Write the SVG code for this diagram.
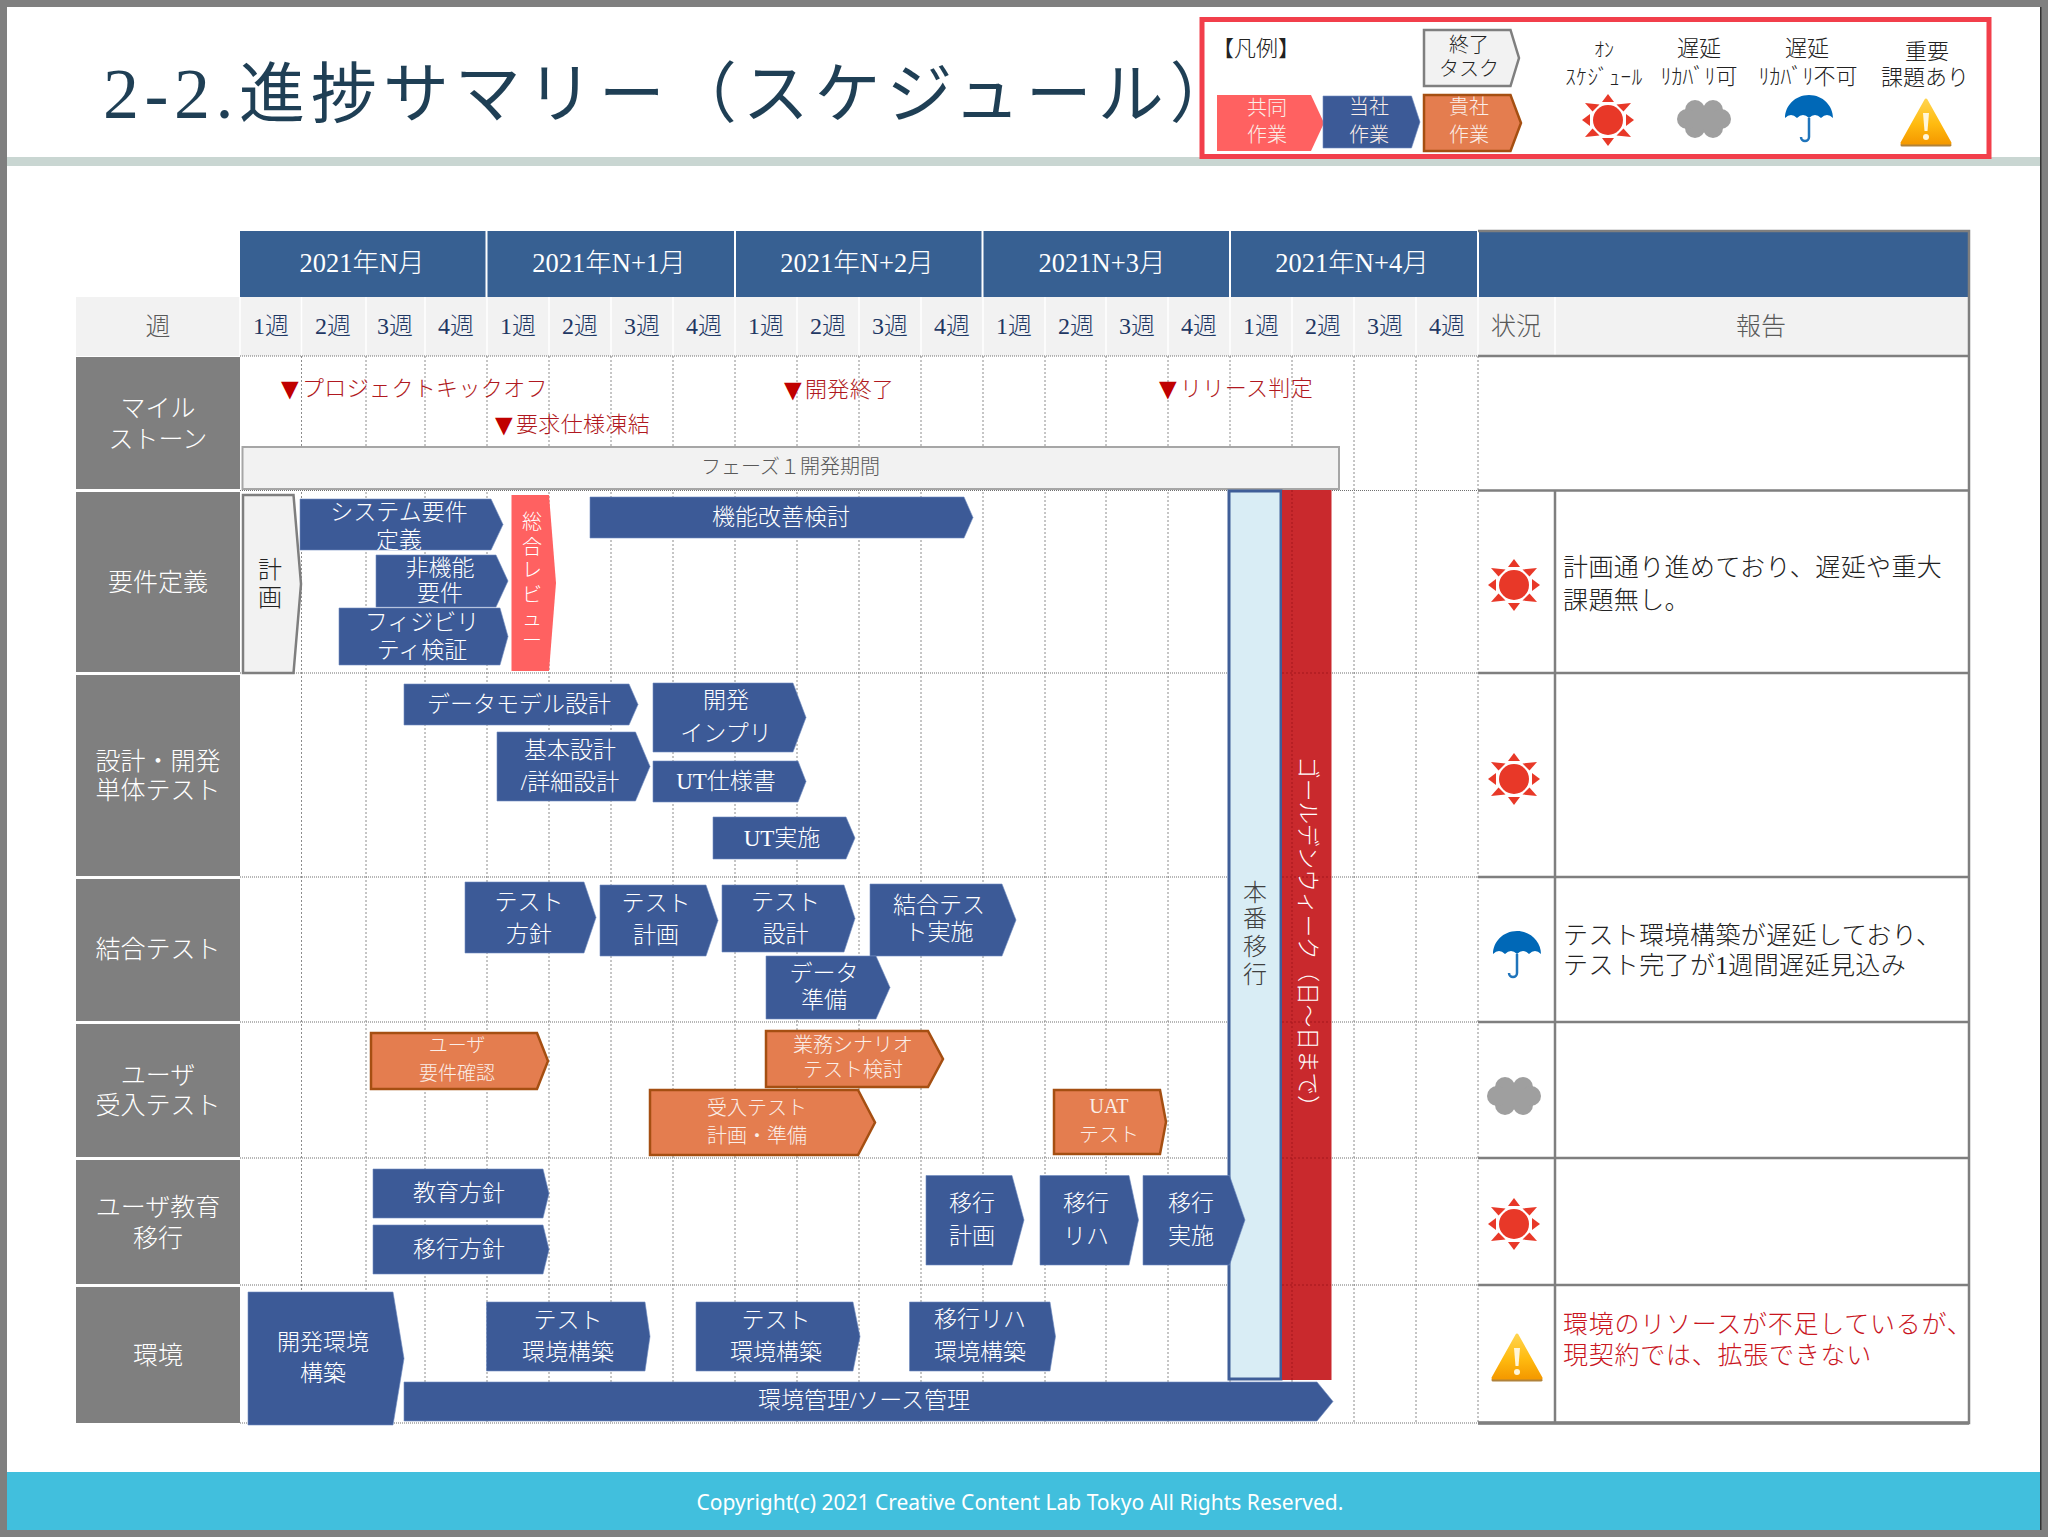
<svg xmlns="http://www.w3.org/2000/svg" width="2048" height="1537" viewBox="0 0 2048 1537">
<style>
text{font-family:"Liberation Serif","Noto Sans CJK JP",serif;font-weight:300;text-anchor:middle;dominant-baseline:central}
.s{text-anchor:start}
.blue{fill:#3c5a97;stroke:#6f8bc0;stroke-width:.6}
.org{fill:#e47d4f;stroke:#a54f12;stroke-width:2.5}
.red{fill:#ff6161}
.done{fill:#f2f2f2;stroke:#7f7f7f;stroke-width:2.5}
.t23{font-size:23px;fill:#fff}
.t20{font-size:20px;fill:#fbeee8}
.lab{font-size:25px;fill:#fff}
.wk{font-size:24px;fill:#1f3864}
.mo{font-size:26.500px;fill:#fff}
.hd{font-size:25px;fill:#595959}
.ms{font-size:22px;fill:#b01820;letter-spacing:.35px}
.tri{font-family:"DejaVu Sans",sans-serif;font-size:30px;fill:#c00000;letter-spacing:0}
.rep{font-size:25px;fill:#222;letter-spacing:.4px}
.repr{font-size:25px;fill:#c9151e;letter-spacing:.75px}
.leg{font-size:21px;fill:#222}
.dot{stroke:#8c8c8c;stroke-width:1;stroke-dasharray:2 2;fill:none}
.dot2{stroke:#707070;stroke-width:1.2;stroke-dasharray:1 1;fill:none}
.dot3{stroke:#a3161c;stroke-width:1;stroke-dasharray:2 2;fill:none}
.tb{stroke:#7f7f7f;stroke-width:2.5;fill:none}
</style>
<defs>
<linearGradient id="amber" x1="0" y1="0" x2="0" y2="1"><stop offset="0" stop-color="#ffd34d"/><stop offset=".55" stop-color="#ffbb10"/><stop offset="1" stop-color="#f59a00"/></linearGradient>
<g id="sun" fill="#e83828"><circle r="15"/>
<polygon id="ray" points="0,-26 -6,-18 6,-18"/>
<use href="#ray" transform="rotate(90)"/><use href="#ray" transform="rotate(180)"/><use href="#ray" transform="rotate(270)"/>
<polygon points="-23,-17 -8.500,-15.500 -15.500,-8.500"/><polygon points="23,-17 8.500,-15.500 15.500,-8.500"/><polygon points="-23,17 -8.500,15.500 -15.500,8.500"/><polygon points="23,17 8.500,15.500 15.500,8.500"/>
</g>
<g id="cloud" fill="#9f9f9f"><circle cx="-9" cy="-9" r="10"/><circle cx="9" cy="-9" r="10"/><circle cx="-9" cy="9" r="10"/><circle cx="9" cy="9" r="10"/><circle cx="-17" r="10"/><circle cx="17" r="10"/><rect x="-10" y="-10" width="20" height="20"/></g>
<g id="umb"><path d="M0,-24C14,-24 24,-13 24,-1Q18,-7 12,-1Q6,-7 0,-1Q-6,-7 -12,-1Q-18,-7 -24,-1C-24,-13 -14,-24 0,-24Z" fill="#0068b7"/><path d="M0,-1V18a4,4 0 0 1 -8,0" fill="none" stroke="#1f74bb" stroke-width="2.500"/></g>
<g id="warn"><path d="M0,-22L24,21H-24Z" fill="#b0823a" stroke="#b0823a" stroke-width="3" stroke-linejoin="round" transform="translate(0,2)"/><path d="M0,-22L24,21H-24Z" fill="url(#amber)" stroke="url(#amber)" stroke-width="3" stroke-linejoin="round"/><polygon points="-3,-9 3,-9 1.500,9 -1.500,9" fill="#fff6d8"/><circle cy="15" r="3" fill="#fff6d8"/></g>
</defs>

<g id="frame">
<rect width="2048" height="1537" fill="#7f7f7f"/>
<rect x="7" y="7" width="2034" height="1523" fill="#fff"/>
<rect x="7" y="157" width="2034" height="9" fill="#c9d6d2"/>
<rect x="7" y="1472" width="2034" height="58" fill="#41bfdd"/>
<rect x="2040" y="7" width="1.500" height="1523" fill="#333"/>
</g>
<text id="title" class="s" x="103" y="94" style="font-size:66px;fill:#1f3f55;letter-spacing:5.950px;font-weight:400"><tspan style="font-size:72px;letter-spacing:5.500px">2-2.</tspan>進捗サマリー（スケジュール）</text>
<text id="copyright" x="1020" y="1502" style="font-family:'Noto Sans',sans-serif;font-size:21px;fill:#fff;font-weight:400">Copyright(c) 2021 Creative Content Lab Tokyo All Rights Reserved.</text>

<g id="grid">
<rect x="240" y="231" width="1729" height="66" fill="#376092"/>
<rect x="76" y="297" width="1893" height="59" fill="#f2f2f2"/>
<path d="M486.500 231V297M735 231V297M982.500 231V297M1230 231V297M1478 231V297" stroke="#fff" stroke-width="2" fill="none"/>
<path d="M240 297V356M301.500 297V356M366 297V356M425 297V356M487 297V356M549 297V356M611 297V356M673 297V356M735 297V356M797 297V356M859 297V356M921 297V356M983 297V356M1045 297V356M1106 297V356M1168 297V356M1230 297V356M1292 297V356M1354 297V356M1416 297V356M1478 297V356M1555 297V356" stroke="#fff" stroke-width="1.500" fill="none"/>
<g fill="#7f7f7f">
<rect x="76" y="357" width="164" height="132"/><rect x="76" y="492" width="164" height="180"/><rect x="76" y="675" width="164" height="201"/><rect x="76" y="879" width="164" height="142"/><rect x="76" y="1024" width="164" height="133"/><rect x="76" y="1160" width="164" height="124"/><rect x="76" y="1287" width="164" height="136"/>
</g>
<path class="dot" d="M301.500 356V1423M366 356V1423M425 356V1423M487 356V1423M549 356V1423M611 356V1423M673 356V1423M735 356V1423M797 356V1423M859 356V1423M921 356V1423M983 356V1423M1045 356V1423M1106 356V1423M1168 356V1423M1230 356V1423M1292 356V1423M1354 356V1423M1416 356V1423M1478 356V1423"/>
<path class="dot2" d="M240 356H1478M240 490.500H1478M240 673H1478M240 877H1478M240 1022H1478M240 1158H1478M240 1285H1478M240 1423H1478"/>
<path class="tb" d="M1478 231H1969V1423H1478M1478 356H1969M1478 490.500H1969M1478 673H1969M1478 877H1969M1478 1022H1969M1478 1158H1969M1478 1285H1969M1555 490.500V1423"/>
<path d="M1478 1423H1969" stroke="#7f7f7f" stroke-width="3.500"/>
<text class="mo" x="362" y="263">2021年N月</text><text class="mo" x="609" y="263">2021年N+1月</text><text class="mo" x="857" y="263">2021年N+2月</text><text class="mo" x="1102" y="263">2021N+3月</text><text class="mo" x="1352" y="263">2021年N+4月</text>
<text class="hd" x="158" y="326">週</text><text class="hd" x="1516" y="326">状況</text><text class="hd" x="1761" y="326">報告</text>
<text class="wk" x="271" y="326">1週</text><text class="wk" x="333" y="326">2週</text><text class="wk" x="395" y="326">3週</text><text class="wk" x="456" y="326">4週</text>
<text class="wk" x="518" y="326">1週</text><text class="wk" x="580" y="326">2週</text><text class="wk" x="642" y="326">3週</text><text class="wk" x="704" y="326">4週</text>
<text class="wk" x="766" y="326">1週</text><text class="wk" x="828" y="326">2週</text><text class="wk" x="890" y="326">3週</text><text class="wk" x="952" y="326">4週</text>
<text class="wk" x="1014" y="326">1週</text><text class="wk" x="1076" y="326">2週</text><text class="wk" x="1137" y="326">3週</text><text class="wk" x="1199" y="326">4週</text>
<text class="wk" x="1261" y="326">1週</text><text class="wk" x="1323" y="326">2週</text><text class="wk" x="1385" y="326">3週</text><text class="wk" x="1447" y="326">4週</text>
<text class="lab" x="158" y="408">マイル</text><text class="lab" x="158" y="439">ストーン</text>
<text class="lab" x="158" y="582">要件定義</text>
<text class="lab" x="158" y="761">設計・開発</text><text class="lab" x="158" y="790">単体テスト</text>
<text class="lab" x="158" y="949">結合テスト</text>
<text class="lab" x="158" y="1075">ユーザ</text><text class="lab" x="158" y="1105">受入テスト</text>
<text class="lab" x="158" y="1207">ユーザ教育</text><text class="lab" x="158" y="1238">移行</text>
<text class="lab" x="158" y="1355">環境</text>
</g>

<g id="milestones">
<text class="ms s" x="275" y="388"><tspan class="tri">▼</tspan><tspan x="302">プロジェクトキックオフ</tspan></text>
<text class="ms s" x="489" y="424"><tspan class="tri">▼</tspan><tspan x="516">要求仕様凍結</tspan></text>
<text class="ms s" x="778" y="389"><tspan class="tri">▼</tspan><tspan x="805">開発終了</tspan></text>
<text class="ms s" x="1153" y="388"><tspan class="tri">▼</tspan><tspan x="1180">リリース判定</tspan></text>
</g>

<g id="phase1"><rect x="242.500" y="447" width="1096.500" height="42" fill="#f2f2f2" stroke="#a6a6a6" stroke-width="2"/><text x="790.500" y="467" style="font-size:20px;fill:#595959">フェーズ１開発期間</text></g>

<g id="cutover"><rect x="1229" y="491" width="52" height="888" fill="#d9edf5" stroke="#3f5e98" stroke-width="3"/>
<text x="1255" y="893" style="font-size:24px;fill:#404040">本</text><text x="1255" y="919" style="font-size:24px;fill:#404040">番</text><text x="1255" y="947" style="font-size:24px;fill:#404040">移</text><text x="1255" y="975" style="font-size:24px;fill:#404040">行</text></g>
<g id="goldenweek"><rect x="1282" y="490" width="49.500" height="890" fill="#c9292d"/>
<path class="dot3" d="M1292 490V1380M1282 673H1331M1282 877H1331M1282 1022H1331M1282 1158H1331M1282 1285H1331"/>
<text transform="translate(1307,937) rotate(90)" style="font-size:22.600px;fill:#fff">ゴールデンウィーク（日～日まで）</text></g>

<g id="plan"><polygon class="done" points="243,495 293.500,495 301,584 293.500,673 243,673"/><text x="270" y="570" style="font-size:24px;fill:#222">計</text><text x="270" y="598" style="font-size:24px;fill:#222">画</text></g>
<g id="sysreq"><polygon class="blue" points="300,499 491,499 503,524.500 491,550 300,550"/><text class="t23" x="399" y="512">システム要件</text><text class="t23" x="399" y="540">定義</text></g>
<g id="nonfunc"><polygon class="blue" points="376,555 496,555 508,581 496,607 376,607"/><text class="t23" x="440" y="568">非機能</text><text class="t23" x="440" y="593">要件</text></g>
<g id="feas"><polygon class="blue" points="339,608 500,608 508,636.500 500,665 339,665"/><text class="t23" x="422" y="622">フィジビリ</text><text class="t23" x="422" y="650">ティ検証</text></g>
<g id="review"><polygon class="red" points="511.500,495 549,495 556,583 549,671 511.500,671"/>
<text x="532" y="522" fill="#fff" style="font-size:20px">総</text><text x="532" y="547" fill="#fff" style="font-size:20px">合</text><text x="532" y="570" fill="#fff" style="font-size:20px">レ</text><text x="532" y="595" fill="#fff" style="font-size:20px">ビ</text><text x="532" y="619" fill="#fff" style="font-size:20px">ュ</text><text x="532" y="641" fill="#fff" style="font-size:20px">ー</text></g>
<g id="kaizen"><polygon class="blue" points="590,497 964,497 973,517.500 964,538 590,538"/><text class="t23" x="781" y="517">機能改善検討</text></g>

<g id="datamodel"><polygon class="blue" points="404,684 629,684 638,704.500 629,725 404,725"/><text class="t23" x="519" y="704">データモデル設計</text></g>
<g id="basic"><polygon class="blue" points="497,732 635.500,732 650,766.500 635.500,801 497,801"/><text class="t23" x="570" y="750">基本設計</text><text class="t23" x="570" y="782">/詳細設計</text></g>
<g id="dev"><polygon class="blue" points="653,683 793,683 806,717.500 793,752 653,752"/><text class="t23" x="726" y="700">開発</text><text class="t23" x="726" y="733">インプリ</text></g>
<g id="utspec"><polygon class="blue" points="653,761 798,761 806,781.500 798,802 653,802"/><text class="t23" x="726" y="781">UT仕様書</text></g>
<g id="ut"><polygon class="blue" points="713,817 846,817 855,838 846,859 713,859"/><text class="t23" x="782" y="838">UT実施</text></g>

<g id="testpolicy"><polygon class="blue" points="465,882 584,882 596,917.500 584,953 465,953"/><text class="t23" x="529" y="902">テスト</text><text class="t23" x="529" y="934">方針</text></g>
<g id="testplan"><polygon class="blue" points="600,885 706,885 718,920.500 706,956 600,956"/><text class="t23" x="656" y="903">テスト</text><text class="t23" x="656" y="935">計画</text></g>
<g id="testdesign"><polygon class="blue" points="722,885 844,885 855,918.500 844,952 722,952"/><text class="t23" x="785.500" y="902">テスト</text><text class="t23" x="785.500" y="934">設計</text></g>
<g id="itrun"><polygon class="blue" points="870,884 1002,884 1016,920 1002,956 870,956"/><text class="t23" x="939" y="905">結合テス</text><text class="t23" x="939" y="932">ト実施</text></g>
<g id="testdata"><polygon class="blue" points="766,956 876,956 890,987.500 876,1019 766,1019"/><text class="t23" x="824" y="973">データ</text><text class="t23" x="824" y="1000">準備</text></g>

<g id="userreq"><polygon class="org" points="371,1033 537,1033 548,1061 537,1089 371,1089"/><text class="t20" x="457" y="1045" style="font-size:19px">ユーザ</text><text class="t20" x="457" y="1073" style="font-size:19px">要件確認</text></g>
<g id="scenario"><polygon class="org" points="766,1031 928,1031 943,1059 928,1087 766,1087"/><text class="t20" x="853" y="1045">業務シナリオ</text><text class="t20" x="853" y="1070">テスト検討</text></g>
<g id="uatplan"><polygon class="org" points="650,1090 858,1090 875,1122.500 858,1155 650,1155"/><text class="t20" x="757" y="1108">受入テスト</text><text class="t20" x="757" y="1136">計画・準備</text></g>
<g id="uat"><polygon class="org" points="1054,1090 1160,1090 1166,1122 1160,1154 1054,1154"/><text class="t20" x="1109" y="1106">UAT</text><text class="t20" x="1109" y="1135">テスト</text></g>

<g id="edu"><polygon class="blue" points="373,1169 543,1169 549,1193.500 543,1218 373,1218"/><text class="t23" x="459" y="1193">教育方針</text></g>
<g id="migpolicy"><polygon class="blue" points="373,1225 543,1225 549,1249.500 543,1274 373,1274"/><text class="t23" x="459" y="1249">移行方針</text></g>
<g id="migplan"><polygon class="blue" points="926,1175.500 1012,1175.500 1024,1220 1012,1265 926,1265"/><text class="t23" x="972" y="1203">移行</text><text class="t23" x="972" y="1236">計画</text></g>
<g id="migreh"><polygon class="blue" points="1040,1175.500 1129,1175.500 1138.500,1220 1129,1265 1040,1265"/><text class="t23" x="1086" y="1203">移行</text><text class="t23" x="1086" y="1236">リハ</text></g>
<g id="migrun"><polygon class="blue" points="1143,1175.500 1229.500,1175.500 1245,1220 1229.500,1265 1143,1265"/><text class="t23" x="1191" y="1203">移行</text><text class="t23" x="1191" y="1236">実施</text></g>

<g id="devenv"><polygon class="blue" points="248,1292 393,1292 404,1358.500 393,1425 248,1425"/><text class="t23" x="323" y="1342">開発環境</text><text class="t23" x="323" y="1373">構築</text></g>
<g id="testenv1"><polygon class="blue" points="486.500,1302 645,1302 650,1336.500 645,1371 486.500,1371"/><text class="t23" x="568" y="1320">テスト</text><text class="t23" x="568" y="1352">環境構築</text></g>
<g id="testenv2"><polygon class="blue" points="696,1302 853,1302 860,1336.500 853,1371 696,1371"/><text class="t23" x="776" y="1320">テスト</text><text class="t23" x="776" y="1352">環境構築</text></g>
<g id="rehenv"><polygon class="blue" points="909.500,1302 1050,1302 1055.500,1336.500 1050,1371 909.500,1371"/><text class="t23" x="980" y="1319">移行リハ</text><text class="t23" x="980" y="1352">環境構築</text></g>
<g id="envmgmt"><polygon class="blue" points="404,1382 1317,1382 1333,1401.500 1317,1421 404,1421"/><text class="t23" x="864" y="1400">環境管理/ソース管理</text></g>

<g id="status">
<use href="#sun" x="1514" y="585"/><use href="#sun" x="1514" y="779"/><use href="#umb" x="1517" y="955"/><use href="#cloud" x="1514" y="1096"/><use href="#sun" x="1514" y="1224"/><use href="#warn" x="1517" y="1357"/>
</g>
<g id="reports">
<text class="rep s" x="1563" y="567">計画通り進めており、遅延や重大</text><text class="rep s" x="1563" y="600">課題無し。</text>
<text class="rep s" x="1563" y="935">テスト環境構築が遅延しており、</text><text class="rep s" x="1563" y="965">テスト完了が1週間遅延見込み</text>
<text class="repr s" x="1563" y="1324">環境のリソースが不足しているが、</text><text class="repr s" x="1563" y="1355">現契約では、拡張できない</text>
</g>

<g id="legend">
<rect x="1202" y="19.500" width="787" height="137" fill="#fff" stroke="#f23f4b" stroke-width="5"/>
<text class="leg s" x="1212" y="48" style="font-size:22px">【凡例】</text>
<polygon class="done" points="1424,30 1510.500,30 1519,58 1510.500,86 1424,86"/><text class="leg" x="1469" y="45" style="font-size:20px">終了</text><text class="leg" x="1469" y="69" style="font-size:20px">タスク</text>
<polygon class="red" points="1217,95 1311,95 1324,123 1311,151 1217,151"/><text class="t20" x="1267" y="108">共同</text><text class="t20" x="1267" y="135">作業</text>
<polygon class="blue" points="1323,96 1411.500,96 1420,122 1411.500,148 1323,148"/><text class="t20" x="1369" y="107">当社</text><text class="t20" x="1369" y="135">作業</text>
<polygon class="org" points="1424,95 1510.500,95 1521,123 1510.500,151 1424,151"/><text class="t20" x="1469" y="107">貴社</text><text class="t20" x="1469" y="135">作業</text>
<text class="leg" x="1604" y="50" style="font-size:20px">ｵﾝ</text><text class="leg" x="1604" y="77" style="font-size:21px;letter-spacing:.7px">ｽｹｼﾞｭｰﾙ</text>
<text class="leg" x="1699" y="48" style="font-size:22px">遅延</text><text class="leg" x="1699" y="76" style="font-size:22px">ﾘｶﾊﾞﾘ可</text>
<text class="leg" x="1807" y="48" style="font-size:22px">遅延</text><text class="leg" x="1808" y="76" style="font-size:22px">ﾘｶﾊﾞﾘ不可</text>
<text class="leg" x="1927" y="51" style="font-size:22px">重要</text><text class="leg" x="1925" y="77" style="font-size:22px">課題あり</text>
<use href="#sun" x="1608" y="120"/><use href="#cloud" x="1704" y="119"/><use href="#umb" x="1809" y="119"/><use href="#warn" x="1926" y="122"/>
</g>
</svg>
